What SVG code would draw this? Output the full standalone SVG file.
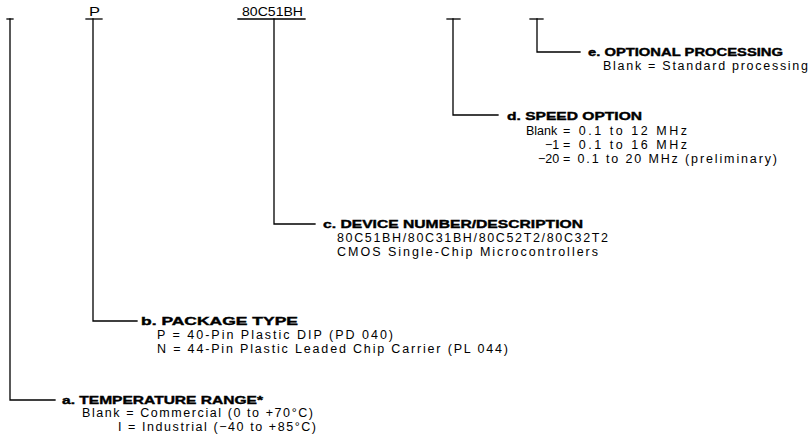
<svg xmlns="http://www.w3.org/2000/svg" width="809" height="443" viewBox="0 0 809 443">
<style>
.ln{fill:none;stroke:#000;stroke-width:1.3;stroke-linecap:square}
.t{font-family:"Liberation Sans",Arial,sans-serif;font-weight:bold;font-size:11.5px;fill:#000;stroke:#000;stroke-width:0.4}
.b{font-family:"Liberation Sans",Arial,sans-serif;font-size:12.5px;fill:#000}
.code{font-family:"Liberation Sans",Arial,sans-serif;font-size:13px;fill:#000}
</style>
<rect width="809" height="443" fill="#fff"/>
<g id="code">
  <g id="code-a"><line class="ln" x1="7" y1="19" x2="13" y2="19"/></g>
  <g id="code-b"><text class="code" x="89" y="16" textLength="11" lengthAdjust="spacingAndGlyphs">P</text><line class="ln" x1="86" y1="19" x2="102" y2="19"/></g>
  <g id="code-c"><text class="code" x="242" y="16" textLength="61" lengthAdjust="spacingAndGlyphs">80C51BH</text><line class="ln" x1="238" y1="19" x2="305" y2="19"/></g>
  <g id="code-d"><line class="ln" x1="447" y1="19" x2="460" y2="19"/></g>
  <g id="code-e"><line class="ln" x1="530" y1="19" x2="543" y2="19"/></g>
</g>
<g id="connectors">
  <polyline class="ln" points="10,19 10,400 55,400"/>
  <polyline class="ln" points="93,19 93,321 137,321"/>
  <polyline class="ln" points="274,19 274,224 315,224"/>
  <polyline class="ln" points="453,19 453,115 498,115"/>
  <polyline class="ln" points="537,19 537,52 580,52"/>
</g>
<g id="desc-e">
  <text class="t" x="588" y="56" textLength="195" lengthAdjust="spacingAndGlyphs">e. OPTIONAL PROCESSING</text>
  <text class="b" x="603" y="70" textLength="205" lengthAdjust="spacing">Blank = Standard processing</text>
</g>
<g id="desc-d">
  <text class="t" x="507" y="120" textLength="135" lengthAdjust="spacingAndGlyphs">d. SPEED OPTION</text>
  <text class="b" y="135"><tspan x="526">Blank </tspan><tspan x="563" textLength="124" lengthAdjust="spacing">= 0.1 to 12 MHz</tspan></text>
  <text class="b" y="149"><tspan x="545">−1 </tspan><tspan x="563" textLength="124" lengthAdjust="spacing">= 0.1 to 16 MHz</tspan></text>
  <text class="b" y="163"><tspan x="538">−20 </tspan><tspan x="563" textLength="214" lengthAdjust="spacing">= 0.1 to 20 MHz (preliminary)</tspan></text>
</g>
<g id="desc-c">
  <text class="t" x="323" y="228" textLength="260" lengthAdjust="spacingAndGlyphs">c. DEVICE NUMBER/DESCRIPTION</text>
  <text class="b" x="337" y="242" textLength="271" lengthAdjust="spacing">80C51BH/80C31BH/80C52T2/80C32T2</text>
  <text class="b" x="337" y="256" textLength="261" lengthAdjust="spacing">CMOS Single-Chip Microcontrollers</text>
</g>
<g id="desc-b">
  <text class="t" x="141" y="325" textLength="157" lengthAdjust="spacingAndGlyphs">b. PACKAGE TYPE</text>
  <text class="b" x="157" y="339" textLength="236" lengthAdjust="spacing">P = 40-Pin Plastic DIP (PD 040)</text>
  <text class="b" x="157" y="353" textLength="351" lengthAdjust="spacing">N = 44-Pin Plastic Leaded Chip Carrier (PL 044)</text>
</g>
<g id="desc-a">
  <text class="t" x="62" y="404" textLength="201" lengthAdjust="spacingAndGlyphs">a. TEMPERATURE RANGE*</text>
  <text class="b" x="82" y="417" textLength="231" lengthAdjust="spacing">Blank = Commercial (0 to +70°C)</text>
  <text class="b" x="118" y="431" textLength="198" lengthAdjust="spacing">I = Industrial (−40 to +85°C)</text>
</g>
</svg>
